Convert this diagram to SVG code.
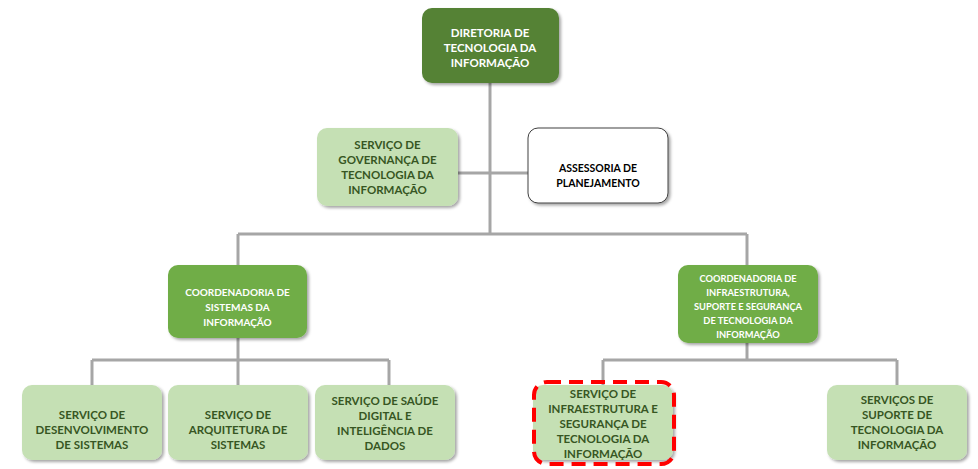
<svg xmlns="http://www.w3.org/2000/svg" width="978" height="469" viewBox="0 0 978 469">
<defs>
<style>
.box{filter:url(#sh)}
.dark{fill:#548235}
.mid{fill:#70AD47}
.light{fill:#C5E0B4}
.white{fill:#FFFFFF;stroke:#404040;stroke-width:1}
.t{font-family:Lato,"Liberation Sans",sans-serif;font-weight:bold;text-anchor:middle}
.tw{fill:#FFFFFF}
.tg{fill:#375623}
.tb{fill:#000000}
.conn{stroke:#A6A6A6;stroke-width:3;fill:none}
</style>
<filter id="sh" x="-10%" y="-10%" width="125%" height="130%">
<feDropShadow dx="2" dy="2" stdDeviation="1.5" flood-color="#000" flood-opacity="0.35"/>
</filter>
</defs>
<rect width="978" height="469" fill="#FFFFFF"/>
<g id="connectors" class="conn">
<path d="M490 83 V234"/>
<path d="M458 173 H528"/>
<path d="M238 234 H747"/>
<path d="M238 234 V265"/>
<path d="M747 234 V265"/>
<path d="M238 338 V360"/>
<path d="M92 360 H389"/>
<path d="M92 360 V385"/>
<path d="M238 360 V385"/>
<path d="M389 360 V385"/>
<path d="M747 343 V360"/>
<path d="M603 360 H897"/>
<path d="M603 360 V385"/>
<path d="M897 360 V385"/>
</g>
<g id="n_diretoria">
<rect class="box dark" x="422" y="8" width="137" height="75" rx="10"/>
<text class="t tw" font-size="11.5"><tspan x="490" y="37">DIRETORIA DE</tspan><tspan x="490" y="52">TECNOLOGIA DA</tspan><tspan x="490" y="67">INFORMAÇÃO</tspan></text>
</g>
<g id="n_governanca">
<rect class="box light" x="317" y="128" width="141" height="78" rx="10"/>
<text class="t tg" font-size="11.5"><tspan x="387.5" y="149">SERVIÇO DE</tspan><tspan x="387.5" y="164">GOVERNANÇA DE</tspan><tspan x="387.5" y="179">TECNOLOGIA DA</tspan><tspan x="387.5" y="194">INFORMAÇÃO</tspan></text>
</g>
<g id="n_assessoria">
<rect class="box white" x="528" y="128" width="140" height="75" rx="10"/>
<text class="t tb" font-size="10.5"><tspan x="598" y="172">ASSESSORIA DE</tspan><tspan x="598" y="187">PLANEJAMENTO</tspan></text>
</g>
<g id="n_coord_sistemas">
<rect class="box mid" x="168" y="265" width="139" height="73" rx="10"/>
<text class="t tw" font-size="10"><tspan x="237.5" y="296">COORDENADORIA DE</tspan><tspan x="237.5" y="311">SISTEMAS DA</tspan><tspan x="237.5" y="326">INFORMAÇÃO</tspan></text>
</g>
<g id="n_coord_infra">
<rect class="box mid" x="678" y="265" width="140" height="78" rx="10"/>
<text class="t tw" font-size="9.3"><tspan x="748" y="282">COORDENADORIA DE</tspan><tspan x="748" y="296">INFRAESTRUTURA,</tspan><tspan x="748" y="310">SUPORTE E SEGURANÇA</tspan><tspan x="748" y="324">DE TECNOLOGIA DA</tspan><tspan x="748" y="338">INFORMAÇÃO</tspan></text>
</g>
<g id="n_desenvolvimento">
<rect class="box light" x="22" y="385" width="140" height="75" rx="10"/>
<text class="t tg" font-size="11.5"><tspan x="92" y="419">SERVIÇO DE</tspan><tspan x="92" y="434">DESENVOLVIMENTO</tspan><tspan x="92" y="449">DE SISTEMAS</tspan></text>
</g>
<g id="n_arquitetura">
<rect class="box light" x="168" y="385" width="140" height="75" rx="10"/>
<text class="t tg" font-size="11.5"><tspan x="238" y="419">SERVIÇO DE</tspan><tspan x="238" y="434">ARQUITETURA DE</tspan><tspan x="238" y="449">SISTEMAS</tspan></text>
</g>
<g id="n_saude">
<rect class="box light" x="315" y="385" width="140" height="75" rx="10"/>
<text class="t tg" font-size="11.5"><tspan x="385" y="405">SERVIÇO DE SAÚDE</tspan><tspan x="385" y="420">DIGITAL E</tspan><tspan x="385" y="435">INTELIGÊNCIA DE</tspan><tspan x="385" y="450">DADOS</tspan></text>
</g>
<g id="n_infra_seg">
<rect class="box light" x="533" y="385" width="140" height="75" rx="10"/>
<text class="t tg" font-size="11.5"><tspan x="603" y="398">SERVIÇO DE</tspan><tspan x="603" y="413">INFRAESTRUTURA E</tspan><tspan x="603" y="428">SEGURANÇA DE</tspan><tspan x="603" y="443">TECNOLOGIA DA</tspan><tspan x="603" y="458">INFORMAÇÃO</tspan></text>
<rect x="534" y="382" width="140" height="82" rx="13" fill="none" stroke="#FF0000" stroke-width="4" stroke-dasharray="14 8"/>
</g>
<g id="n_suporte">
<rect class="box light" x="827" y="385" width="140" height="75" rx="10"/>
<text class="t tg" font-size="11.5"><tspan x="897" y="404">SERVIÇOS DE</tspan><tspan x="897" y="419">SUPORTE DE</tspan><tspan x="897" y="434">TECNOLOGIA DA</tspan><tspan x="897" y="449">INFORMAÇÃO</tspan></text>
</g>
</svg>
